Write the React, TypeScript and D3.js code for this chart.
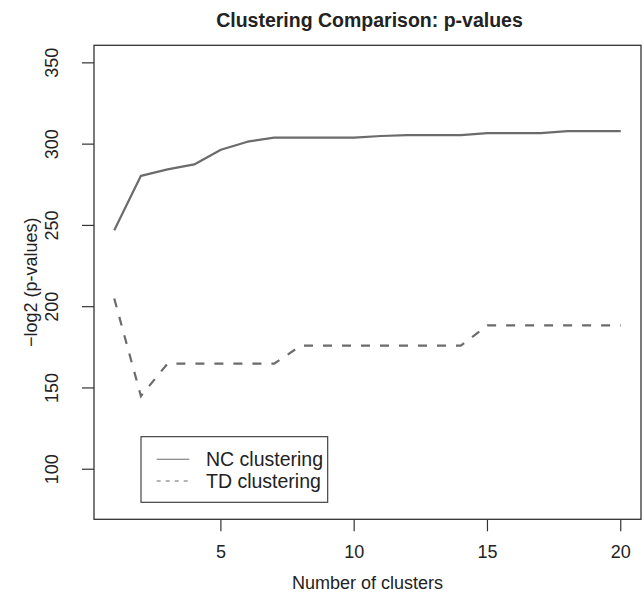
import React from "react";
import * as d3 from "d3";

const clusters = d3.range(1, 21);
const ncValues = [247, 280.5, 284.5, 287.5, 296.5, 301.5, 304, 304, 304, 304, 305, 305.5, 305.5, 305.5, 306.8, 306.8, 306.8, 308, 308, 308];
const tdValues = [205, 145, 165, 165, 165, 165, 165, 176, 176, 176, 176, 176, 176, 176, 188.5, 188.5, 188.5, 188.5, 188.5, 188.5];
const xTicks = [5, 10, 15, 20];
const yTicks = [100, 150, 200, 250, 300, 350];
const seriesNames = ["NC clustering", "TD clustering"];

const W = 644, H = 594;
const box = { left: 94, right: 641, top: 45.3, bottom: 519.3 };
const FONT = "Liberation Sans, Arial, Helvetica, sans-serif";

export default function App() {
  const x = d3.scaleLinear().domain([1 - 0.76, 20 + 0.76]).range([box.left, box.right]);
  const y = d3.scaleLinear().domain([80 - 10.8, 350 + 10.8]).range([box.bottom, box.top]);
  const line = d3.line<number>().x((_, i) => x(clusters[i])).y((d) => y(d));
  const lineColor = "#6b6b6b";
  const axisColor = "#333";
  const fs = 18;
  const lfs = 19.5;
  return (
    <svg width={W} height={H} style={{ display: "block", position: "absolute", left: 0, top: 0 }} fontFamily={FONT}>
      <rect width={W} height={H} fill="#fff" />
      <text x={(box.left + box.right) / 2 + 2} y={27} textAnchor="middle" fontWeight="bold" fontSize={19.5} fill="#222">
        Clustering Comparison: p-values
      </text>
      <rect x={box.left} y={box.top} width={box.right - box.left} height={box.bottom - box.top} fill="none" stroke={axisColor} strokeWidth={1.3} />
      {xTicks.map((t) => (
        <g key={"x" + t}>
          <line x1={x(t)} x2={x(t)} y1={box.bottom} y2={box.bottom + 12} stroke={axisColor} strokeWidth={1.2} />
          <text x={x(t)} y={558} textAnchor="middle" fontSize={fs} fill="#222">{t}</text>
        </g>
      ))}
      {yTicks.map((t) => (
        <g key={"y" + t}>
          <line x1={box.left - 12} x2={box.left} y1={y(t)} y2={y(t)} stroke={axisColor} strokeWidth={1.2} />
          <text transform={`translate(${58},${y(t)}) rotate(-90)`} textAnchor="middle" fontSize={fs} fill="#222">{t}</text>
        </g>
      ))}
      <text x={(box.left + box.right) / 2} y={589} textAnchor="middle" fontSize={fs} fill="#222">Number of clusters</text>
      <text transform={`translate(${37},${(box.top + box.bottom) / 2}) rotate(-90)`} textAnchor="middle" fontSize={fs} fill="#222">
        −log2 (p-values)
      </text>
      <path d={line(ncValues) || ""} fill="none" stroke={lineColor} strokeWidth={2.2} strokeLinejoin="round" />
      <path d={line(tdValues) || ""} fill="none" stroke={lineColor} strokeWidth={2.2} strokeDasharray="9,10" />
      <g>
        <rect x={141} y={436.7} width={186.7} height={65.6} fill="#fff" stroke={axisColor} strokeWidth={1.1} />
        <line x1={156.7} x2={189.3} y1={459.3} y2={459.3} stroke={lineColor} strokeWidth={1.1} />
        <line x1={156.7} x2={189.3} y1={481} y2={481} stroke={lineColor} strokeWidth={1.1} strokeDasharray="4,5" />
        <text x={206} y={459.3} dy="0.35em" fontSize={lfs} fill="#222">{seriesNames[0]}</text>
        <text x={206} y={481} dy="0.35em" fontSize={lfs} fill="#222">{seriesNames[1]}</text>
      </g>
    </svg>
  );
}
